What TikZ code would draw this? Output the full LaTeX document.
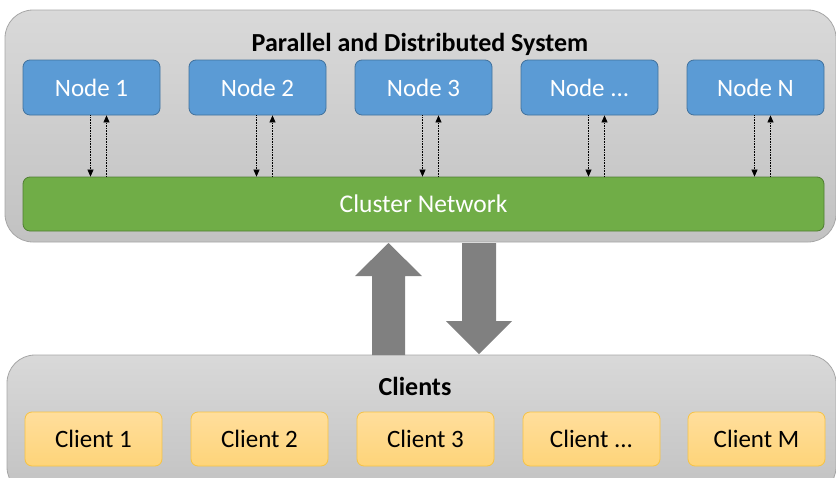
\documentclass[tikz,border=0pt]{standalone}
\usepackage{fontspec}
\setmainfont{Carlito}
\usetikzlibrary{arrows.meta}
\definecolor{nodeblue}{HTML}{5B9BD5}
\definecolor{nodeborder}{HTML}{41719C}
\definecolor{netgreen}{HTML}{70AD47}
\definecolor{netborder}{HTML}{507E32}
\definecolor{contborder}{HTML}{A6A6A6}
\definecolor{clienttop}{HTML}{FFDE9C}
\definecolor{clientbot}{HTML}{FED479}
\definecolor{clientborder}{HTML}{F7C343}
\definecolor{bigarrow}{HTML}{808080}
\tikzset{
  container/.style={draw=contborder, line width=0.8pt, rounded corners=28pt, top color=gray!30, bottom color=gray!48},
  srvbox/.style={draw=nodeborder, line width=0.8pt, fill=nodeblue, rounded corners=7pt, minimum width=137pt, minimum height=55pt, text=white, font=\fontsize{25}{29}\selectfont, inner sep=0pt},
  netbox/.style={draw=netborder, line width=0.8pt, fill=netgreen, rounded corners=7pt, minimum width=801pt, minimum height=54pt, text=white, font=\fontsize{25.5}{29}\selectfont, inner sep=0pt},
  clibox/.style={draw=clientborder, line width=0.8pt, top color=clienttop, bottom color=clientbot, rounded corners=7pt, minimum width=137pt, minimum height=54pt, text=black, font=\fontsize{25}{29}\selectfont, inner sep=0pt},
  ttl/.style={font=\bfseries\fontsize{26}{30}\selectfont, text=black, inner sep=0pt},
  dotarrow/.style={densely dotted, line width=0.6pt, -{Triangle[length=7pt,width=6pt]}},
  fat/.style={fill=bigarrow, draw=none}
}
\begin{document}
\begin{tikzpicture}[x=1pt,y=-1pt]
\useasboundingbox (0,0) rectangle (836,477);
% containers
\node[container, minimum width=831pt, minimum height=232pt, inner sep=0pt] (sys) at (420.5,126) {};
\node[container, minimum width=829pt, minimum height=140pt, inner sep=0pt] (cli) at (421.5,425) {};
\node[ttl] (systitle) at (420,44) {Parallel and Distributed System};
\node[ttl] (clititle) at (415,386) {Clients};
% server nodes
\node[srvbox] (n1) at (91.5,87.5) {Node 1};
\node[srvbox] (n2) at (257.5,87.5) {Node 2};
\node[srvbox] (n3) at (423.5,87.5) {Node 3};
\node[srvbox] (n4) at (589.5,87.5) {Node ...};
\node[srvbox] (n5) at (755.5,87.5) {Node N};
\node[netbox] (net) at (423.5,204) {Cluster Network};
% dotted arrows
\foreach \n in {n1,n2,n3,n4,n5}{
  \draw[dotarrow] ([xshift=-1pt]\n.south) -- ([xshift=-1pt]\n.south |- net.north);
  \draw[dotarrow] ([xshift=15pt]\n.south |- net.north) -- ([xshift=15pt]\n.south);
}
% big arrows
\fill[fat] (372,355) -- (372,276) -- (355,276) -- (388.5,243) -- (422,276) -- (405,276) -- (405,355) -- cycle;
\fill[fat] (462,243) -- (462,321) -- (446,321) -- (479,354) -- (512,321) -- (496,321) -- (496,243) -- cycle;
% clients
\node[clibox] (c1) at (93.5,439) {Client 1};
\node[clibox] (c2) at (259.5,439) {Client 2};
\node[clibox] (c3) at (425.5,439) {Client 3};
\node[clibox] (c4) at (591.5,439) {Client ...};
\node[clibox] (c5) at (756.5,439) {Client M};
\end{tikzpicture}
\end{document}
